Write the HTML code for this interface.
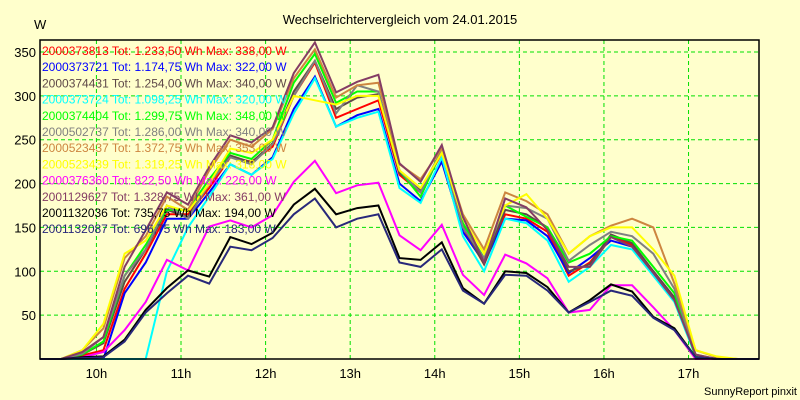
<!DOCTYPE html>
<html><head><meta charset="utf-8"><style>
html,body{margin:0;padding:0;background:#ffffcc;}
svg{display:block;font-family:"Liberation Sans",sans-serif;}
</style></head><body>
<svg id="chart" width="800" height="400">
<rect x="0" y="0" width="800" height="400" fill="#ffffcc"/>
<text x="400" y="24" text-anchor="middle" font-size="13" fill="#000">Wechselrichtervergleich vom 24.01.2015</text>
<text x="34" y="29" font-size="13" fill="#000">W</text>
<text x="797" y="395" text-anchor="end" font-size="11" fill="#000">SunnyReport pinxit</text>
<g id="grid"></g><g id="series"></g><g id="legend"></g><g id="axes"></g>
</svg>
<script>
const times = [9.333,9.583,9.833,10.083,10.333,10.583,10.833,11.083,11.333,11.583,11.833,12.083,12.333,12.583,12.833,13.083,13.333,13.583,13.833,14.083,14.333,14.583,14.833,15.083,15.333,15.583,15.833,16.083,16.333,16.583,16.833,17.083,17.333,17.583,17.833];
const seriesNames = ["2000373813","2000373721","2000374431","2000373724","2000374404","2000502737","2000523437","2000523439","2000376360","2001129627","2001132036","2001132087"];
const seriesTotals = ["Tot: 1.233,50 Wh Max: 338,00 W","Tot: 1.174,75 Wh Max: 322,00 W","Tot: 1.254,00 Wh Max: 340,00 W","Tot: 1.098,25 Wh Max: 320,00 W","Tot: 1.299,75 Wh Max: 348,00 W","Tot: 1.286,00 Wh Max: 340,00 W","Tot: 1.372,75 Wh Max: 353,00 W","Tot: 1.319,25 Wh Max: 318,00 W","Tot: 822,50 Wh Max: 226,00 W","Tot: 1.328,75 Wh Max: 361,00 W","Tot: 735,75 Wh Max: 194,00 W","Tot: 696,75 Wh Max: 183,00 W"];
const seriesColors = ["#ff0000","#0000ff","#5e4848","#00ffff","#00ff00","#808080","#cd853f","#ffff00","#ff00ff","#843c64","#000000","#28287a"];
const sRed = [0,0,4,10,80,120,165,165,195,230,225,242,300,338,275,285,295,210,190,235,150,108,165,160,145,95,110,140,130,100,70,3,0,0,0];
const sBlue = [0,0,0,0,75,110,160,160,190,222,210,230,285,322,265,278,285,200,180,225,145,110,160,158,140,98,115,135,128,100,70,3,0,0,0];
const sDark = [0,0,5,18,88,125,170,162,200,232,224,246,305,340,285,298,302,212,192,238,152,108,170,165,150,100,108,142,132,100,70,4,0,0,0];
const sCyan = [0,0,0,0,0,0,100,150,185,222,210,228,280,320,265,275,282,195,178,230,140,100,160,155,135,88,105,130,125,95,65,3,0,0,0];
const sGreen = [0,0,5,20,95,130,170,170,205,235,228,250,315,348,292,305,305,215,185,238,155,115,175,162,150,110,120,140,135,105,75,3,0,0,0];
const sGray = [0,0,6,25,95,125,175,160,200,230,222,245,300,340,280,312,305,215,190,238,150,115,175,172,160,112,130,145,140,120,80,5,0,0,0];
const sOrange = [0,0,10,35,115,140,185,170,215,250,242,262,320,353,298,312,315,222,205,240,165,125,190,180,165,120,140,152,160,150,86,10,2,0,0];
const sYellow = [0,0,10,40,120,135,175,168,200,240,235,250,300,295,290,300,300,215,195,235,160,120,175,188,160,120,140,150,150,125,95,10,3,0,0];
const sMagenta = [0,0,2,8,33,65,113,101,151,158,150,164,202,226,189,198,201,141,124,153,96,73,119,109,92,53,56,84,84,59,33,0,0,0,0];
const sPurple = [0,0,8,25,105,147,190,176,219,255,247,264,326,361,304,316,324,223,202,244,162,110,183,173,147,105,105,139,128,98,67,5,0,0,0];
const sBlack = [0,0,2,3,22,56,81,101,94,139,131,144,176,194,165,172,175,115,113,133,81,63,100,98,82,53,67,85,77,48,35,2,0,0,0];
const sNavy = [0,0,1,2,20,53,75,95,86,128,124,138,165,183,150,160,165,110,105,125,78,63,96,95,78,53,65,78,72,47,33,2,0,0,0];
const seriesValues = [sRed,sBlue,sDark,sCyan,sGreen,sGray,sOrange,sYellow,sMagenta,sPurple,sBlack,sNavy];
const yTicks = [50,100,150,200,250,300,350];
const xTicks = [10,11,12,13,14,15,16,17];

const L=40,R=759,T=40,B=359,tMin=9.333,tMax=17.833,vMax=363.7;
const NS="http://www.w3.org/2000/svg";
function xS(t){return L+(t-tMin)/(tMax-tMin)*(R-L);}
function yS(v){return B-v/vMax*(B-T);}
function mk(tag,attrs,parent){const e=document.createElementNS(NS,tag);for(const k in attrs)e.setAttribute(k,attrs[k]);parent.appendChild(e);return e;}
const grid=document.getElementById('grid'),ser=document.getElementById('series'),leg=document.getElementById('legend'),axes=document.getElementById('axes');
yTicks.forEach(v=>{
  const l=mk('line',{x1:L,x2:R,y1:yS(v),y2:yS(v),stroke:'#00e000','stroke-width':1,'stroke-dasharray':'4,3'},grid);
  
  
  const t=mk('text',{x:36,y:yS(v)+5,'text-anchor':'end','font-size':13,fill:'#000'},axes);
  t.textContent=v;
  
  
});
xTicks.forEach(h=>{
  const l=mk('line',{x1:xS(h),x2:xS(h),y1:T,y2:B,stroke:'#00e000','stroke-width':1,'stroke-dasharray':'4,3'},grid);
  
  
  const t=mk('text',{x:xS(h),y:378,'text-anchor':'middle','font-size':13,fill:'#000'},axes);
  t.textContent=h+'h';
  
  
});
seriesValues.forEach((vals,i)=>{
  const d=vals.map((v,j)=>(j?'L':'M')+xS(times[j]).toFixed(1)+','+yS(v).toFixed(1)).join(' ');
  const p=mk('path',{d:d,fill:'none',stroke:seriesColors[i],'stroke-width':2,'stroke-linejoin':'miter'},ser);
  
  
  const t=mk('text',{x:42,y:55+i*16.2,'font-size':12,fill:seriesColors[i]},leg);
  t.textContent=seriesNames[i]+' '+seriesTotals[i];
  
  
});
const frame=mk('path',{d:`M${L},${T} L${R},${T} L${R},${B} L${L},${B} Z`,fill:'none',stroke:'#000','stroke-width':1.5},axes);


</script>
</body></html>
